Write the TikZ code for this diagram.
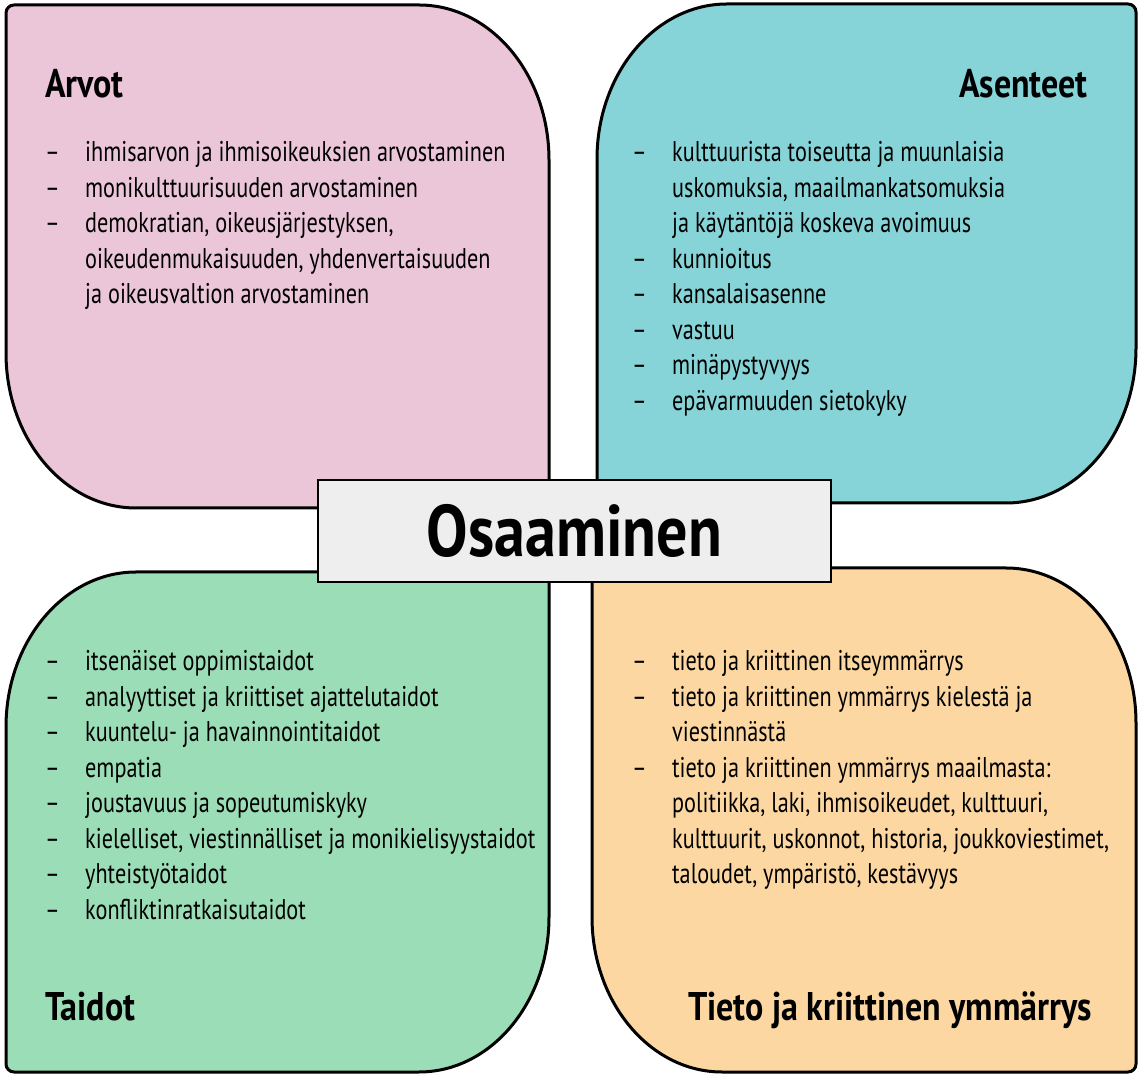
\documentclass[tikz,border=0pt]{standalone}
\usepackage{fontspec}
\setmainfont{PT Sans}[FakeStretch=0.78]
\newfontfamily\otsikkofontti{PT Sans}[FakeStretch=0.85]
\usepackage{array}

\definecolor{arvotpun}{HTML}{EBC6D8}
\definecolor{asensin}{HTML}{86D4D7}
\definecolor{taitovih}{HTML}{9BDDB6}
\definecolor{tietokel}{HTML}{FCD7A1}
\definecolor{keskiharm}{HTML}{EEEEEE}

\newcommand{\kohdat}[1]{\begin{tabular}[t]{@{}p{40pt}@{}l@{}}#1\end{tabular}}

\begin{document}
\begin{tikzpicture}[x=1pt,y=1pt,
  lehti/.style={draw=black, line width=3pt},
  otsikko/.style={inner sep=0pt, font=\otsikkofontti\fontsize{40}{44}\selectfont\bfseries},
  lista/.style={anchor=base west, inner sep=0pt, font=\fontsize{28.5}{35.5}\selectfont}]
  \useasboundingbox (0,0) rectangle (1138,1077);

  % Arvot
  \draw[lehti, fill=arvotpun] (6,724) -- (6,1064) arc[start angle=180,end angle=90,radius=8]
    -- (419,1072) arc[start angle=90,end angle=0,x radius=130,y radius=155]
    -- (549,577) arc[start angle=0,end angle=-90,radius=8]
    -- (136,569) arc[start angle=270,end angle=180,x radius=130,y radius=155] -- cycle;
  % Asenteet
  \draw[lehti, fill=asensin] (727,1073) -- (1128,1073) arc[start angle=90,end angle=0,radius=8]
    -- (1136,729) arc[start angle=0,end angle=-90,x radius=130,y radius=155]
    -- (605,574) arc[start angle=270,end angle=180,radius=8]
    -- (597,918) arc[start angle=180,end angle=90,x radius=130,y radius=155] -- cycle;
  % Taidot
  \draw[lehti, fill=taitovih] (136,505) -- (541,505) arc[start angle=90,end angle=0,radius=8]
    -- (549,160) arc[start angle=0,end angle=-90,x radius=130,y radius=155]
    -- (14,5) arc[start angle=270,end angle=180,radius=8]
    -- (6,350) arc[start angle=180,end angle=90,x radius=130,y radius=155] -- cycle;
  % Tieto
  \draw[lehti, fill=tietokel] (592,160) -- (592,501) arc[start angle=180,end angle=90,radius=8]
    -- (1006,509) arc[start angle=90,end angle=0,x radius=130,y radius=155]
    -- (1136,13) arc[start angle=0,end angle=-90,radius=8]
    -- (722,5) arc[start angle=270,end angle=180,x radius=130,y radius=155] -- cycle;

  \node[otsikko, anchor=base west] (arvot) at (45,979) {Arvot};
  \node[otsikko, anchor=base east] (asenteet) at (1088,979) {Asenteet};
  \node[otsikko, anchor=base west] (taidot) at (45,57) {Taidot};
  \node[otsikko, anchor=base east] (tieto) at (1092,57) {Tieto ja kriittinen ymmärrys};

  \node[lista] (arvolista) at (45,915) {\kohdat{
    -- & ihmisarvon ja ihmisoikeuksien arvostaminen\\
    -- & monikulttuurisuuden arvostaminen\\
    -- & demokratian, oikeusjärjestyksen,\\
       & oikeudenmukaisuuden, yhdenvertaisuuden\\
       & ja oikeusvaltion arvostaminen}};
  \node[lista] (asennelista) at (632,915) {\kohdat{
    -- & kulttuurista toiseutta ja muunlaisia\\
       & uskomuksia, maailmankatsomuksia\\
       & ja käytäntöjä koskeva avoimuus\\
    -- & kunnioitus\\
    -- & kansalaisasenne\\
    -- & vastuu\\
    -- & minäpystyvyys\\
    -- & epävarmuuden sietokyky}};
  \node[lista] (taitolista) at (45,406) {\kohdat{
    -- & itsenäiset oppimistaidot\\
    -- & analyyttiset ja kriittiset ajattelutaidot\\
    -- & kuuntelu- ja havainnointitaidot\\
    -- & empatia\\
    -- & joustavuus ja sopeutumiskyky\\
    -- & kielelliset, viestinnälliset ja monikielisyystaidot\\
    -- & yhteistyötaidot\\
    -- & konfliktinratkaisutaidot}};
  \node[lista] (tietolista) at (632,406) {\kohdat{
    -- & tieto ja kriittinen itseymmärrys\\
    -- & tieto ja kriittinen ymmärrys kielestä ja\\
       & viestinnästä\\
    -- & tieto ja kriittinen ymmärrys maailmasta:\\
       & politiikka, laki, ihmisoikeudet, kulttuuri,\\
       & kulttuurit, uskonnot, historia, joukkoviestimet,\\
       & taloudet, ympäristö, kestävyys}};

  \node[draw=black, line width=1.5pt, fill=keskiharm, minimum width=513pt, minimum height=102pt,
    font=\otsikkofontti\fontsize{73}{78}\selectfont\bfseries] (osaaminen) at (574.5,546) {Osaaminen};
\end{tikzpicture}
\end{document}
